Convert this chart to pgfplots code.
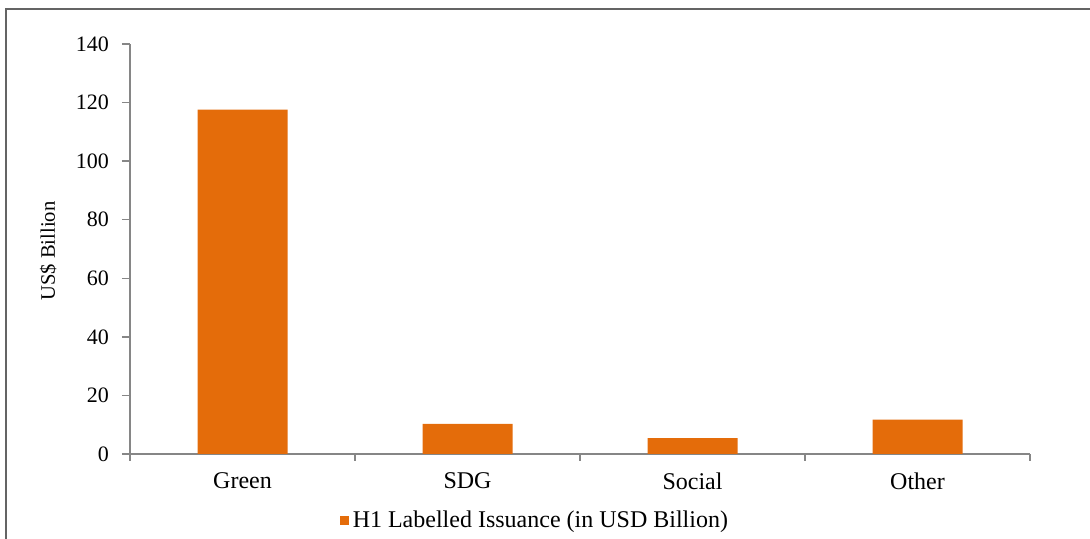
\documentclass[border=0pt]{standalone}
\usepackage{pgfplots}
\pgfplotsset{compat=1.18}
\usepackage{fontspec}
\setmainfont{Liberation Serif}

\definecolor{barorange}{RGB}{228,108,10}
\definecolor{axisgray}{RGB}{134,134,134}
\definecolor{framegray}{RGB}{100,100,100}

\begin{document}
\begin{tikzpicture}
    \useasboundingbox (0,0) rectangle (545pt,269.5pt);
    \draw[framegray, line width=1pt] (3pt,0) -- (3pt,265pt) -- (546pt,265pt);
    \begin{axis}[
            at={(65pt,42.5pt)}, anchor=south west,
            scale only axis,
            width=450pt, height=205pt,
            font=\fontsize{11}{13}\selectfont,
            /pgf/number format/assume math mode=true,
            ybar, bar width=45pt, bar shift=0pt,
            xmin=-0.5, xmax=3.5,
            ymin=0, ymax=140,
            ytick={0,20,...,140},
            xtick={0,1,2,3},
            xticklabels={Green,SDG,Social,Other},
            minor xtick={-0.5,0.5,1.5,2.5,3.5},
            axis x line*=bottom, axis y line*=left,
            axis line style={axisgray, line width=0.75pt},
            tick align=outside,
            major x tick style={draw=none},
            minor x tick style={axisgray, line width=0.75pt},
            minor tick length=3.5pt,
            major y tick style={axisgray, line width=0.75pt},
            major tick length=4pt,
            yticklabel style={xshift=-3pt},
            xticklabel style={yshift=-2pt, font=\fontsize{12}{14}\selectfont},
            ylabel={US\$ Billion},
            every axis y label/.style={at={(axis description cs:-0.091,0.495)}, rotate=90,
                anchor=center, font=\fontsize{10.3}{12}\selectfont},
            legend style={at={(axis description cs:0.451,-0.163)}, anchor=center, draw=none,
                fill=none, font=\fontsize{12}{14}\selectfont},
            legend image code/.code={\fill[#1] (0pt,-2.25pt) rectangle (4.5pt,2.25pt);},
        ]
        \addplot[fill=barorange, draw=none] coordinates {(0,117.6) (1,10.3) (2,5.4) (3,11.7)};
        \addlegendentry{H1 Labelled Issuance (in USD Billion)}
    \end{axis}
\end{tikzpicture}
\end{document}
